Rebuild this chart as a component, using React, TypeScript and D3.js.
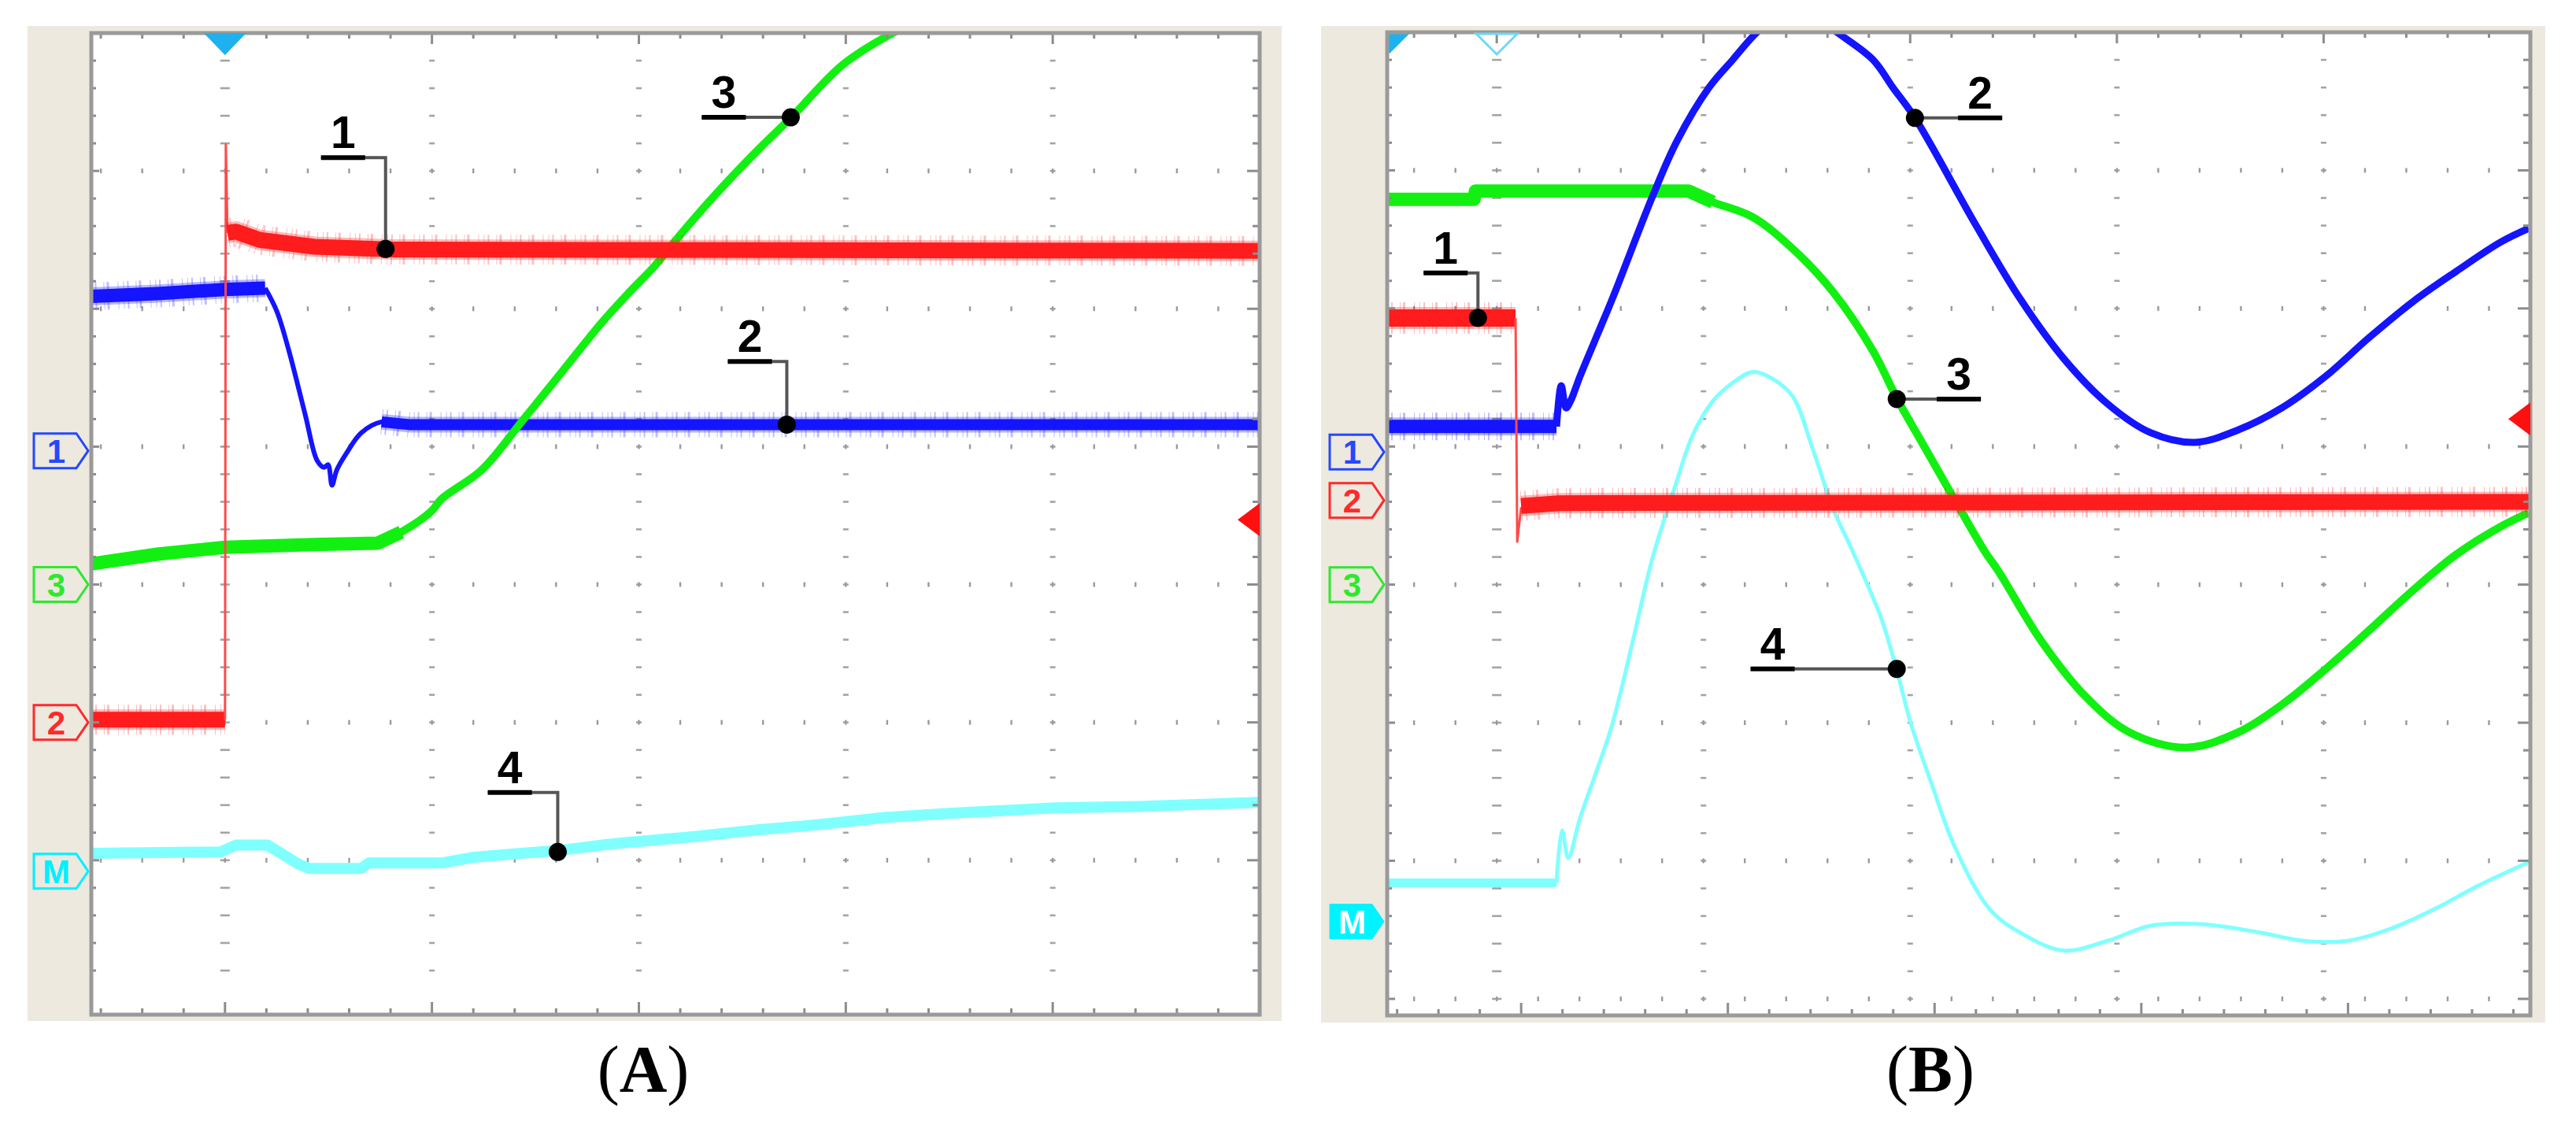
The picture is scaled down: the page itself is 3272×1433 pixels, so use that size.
import React from 'react';
import * as d3 from 'd3';

type Pt = [number, number];

// x = time in screen divisions from trigger, y = screen divisions from the lowest grid row

// ---------- Panel (A) ----------
const A_red_before: Pt[] = [[-0.646, 2.02], [0, 2.02]];
const A_red_edge: Pt[] = [[0, 2.02], [0.004, 6.19], [0.012, 5.55]];
const A_red_after: Pt[] = [[0.012, 5.55], [0.053, 5.56], [0.167, 5.5], [0.433, 5.45], [0.814, 5.43], [5.0, 5.42]];

const A_blue_before: Pt[] = [[-0.646, 5.09], [-0.327, 5.11], [0, 5.14], [0.194, 5.15]];
const A_blue_dip: Pt[] = [[0.194, 5.15], [0.251, 4.98], [0.308, 4.7], [0.388, 4.23], [0.445, 3.9], [0.479, 3.85], [0.498, 3.87], [0.517, 3.72], [0.54, 3.83], [0.586, 3.95], [0.658, 4.1], [0.757, 4.18], [0.89, 4.16]];
const A_blue_after: Pt[] = [[0.757, 4.18], [0.89, 4.16], [5.0, 4.16]];

const A_green_flat: Pt[] = [[-0.646, 3.15], [-0.327, 3.22], [0, 3.27], [0.433, 3.29], [0.738, 3.3], [0.852, 3.38]];
const A_green_rise: Pt[] = [[0.738, 3.3], [0.852, 3.38], [0.996, 3.53], [1.046, 3.62], [1.24, 3.83], [1.433, 4.18], [1.627, 4.54], [1.821, 4.9], [1.954, 5.12], [2.076, 5.31], [2.202, 5.54], [2.365, 5.82], [2.574, 6.15], [2.738, 6.39], [2.985, 6.77], [3.251, 7.02], [3.475, 7.18]];

const A_cyan: Pt[] = [[-0.646, 1.05], [-0.023, 1.06], [0.053, 1.11], [0.205, 1.11], [0.281, 1.04], [0.357, 0.97], [0.407, 0.94], [0.658, 0.94], [0.696, 0.98], [1.046, 0.98], [1.194, 1.02], [1.433, 1.05], [1.608, 1.07], [1.821, 1.11], [1.954, 1.13], [2.262, 1.17], [2.574, 1.22], [2.882, 1.26], [3.19, 1.31], [3.502, 1.34], [4.015, 1.38], [4.426, 1.39], [5.0, 1.42]];

const A_channelLevels = [
  { label: '1', level: 3.97 },
  { label: '3', level: 3.0 },
  { label: '2', level: 2.0 },
  { label: 'M', level: 0.92 },
];
const A_refLevel = 3.47;

const A_callouts = [
  { text: '1', dot: [0.776, 5.434] as Pt, corner: [0.776, 6.097] as Pt, end: [0.464, 6.097] as Pt },
  { text: '2', dot: [2.715, 4.16] as Pt, corner: [2.715, 4.617] as Pt, end: [2.43, 4.617] as Pt },
  { text: '3', dot: [2.734, 6.389] as Pt, corner: null, end: [2.304, 6.389] as Pt },
  { text: '4', dot: [1.608, 1.06] as Pt, corner: [1.608, 1.491] as Pt, end: [1.27, 1.491] as Pt },
];

// ---------- Panel (B) ----------
const B_red_before: Pt[] = [[-0.53, 4.93], [0.091, 4.93]];
const B_red_edge: Pt[] = [[0.091, 4.93], [0.099, 3.31], [0.118, 3.56]];
const B_red_after: Pt[] = [[0.118, 3.57], [0.3, 3.59], [5.0, 3.6]];

const B_blue_before: Pt[] = [[-0.53, 4.145], [0.289, 4.145]];
const B_blue_swing: Pt[] = [[0.289, 4.145], [0.312, 4.44], [0.335, 4.28], [0.357, 4.33], [0.403, 4.51], [0.559, 5.07], [0.753, 5.81], [0.871, 6.21], [1.027, 6.6], [1.141, 6.8], [1.259, 7.0], [1.357, 7.11], [1.452, 7.15], [1.548, 7.11], [1.646, 7.0], [1.821, 6.8], [1.916, 6.6], [2.023, 6.38], [2.319, 5.6], [2.532, 5.07], [2.741, 4.64], [2.954, 4.31], [3.163, 4.1], [3.376, 4.03], [3.586, 4.12], [3.798, 4.28], [4.011, 4.51], [4.221, 4.79], [4.433, 5.05], [4.643, 5.27], [4.856, 5.48], [4.992, 5.58]];

const B_green_flat: Pt[] = [[-0.53, 5.79], [-0.11, 5.79], [-0.103, 5.85], [0.928, 5.85], [1.046, 5.77]];
const B_green_fall: Pt[] = [[0.928, 5.85], [1.046, 5.77], [1.24, 5.66], [1.433, 5.43], [1.627, 5.12], [1.821, 4.69], [1.935, 4.35], [2.049, 4.05], [2.194, 3.67], [2.361, 3.24], [2.426, 3.1], [2.635, 2.59], [2.848, 2.19], [3.061, 1.93], [3.335, 1.82], [3.586, 1.93], [3.798, 2.13], [4.011, 2.39], [4.221, 2.67], [4.433, 2.96], [4.643, 3.22], [4.856, 3.42], [4.992, 3.52]];

const B_cyan_flat: Pt[] = [[-0.53, 0.84], [0.289, 0.84]];
const B_cyan_pulse: Pt[] = [[0.289, 0.84], [0.316, 1.22], [0.346, 1.02], [0.403, 1.31], [0.483, 1.65], [0.559, 1.99], [0.658, 2.59], [0.753, 3.19], [0.871, 3.75], [0.947, 4.08], [1.046, 4.33], [1.141, 4.46], [1.24, 4.54], [1.335, 4.49], [1.433, 4.36], [1.529, 3.98], [1.627, 3.55], [1.722, 3.24], [1.859, 2.76], [1.935, 2.38], [2.004, 1.99], [2.11, 1.53], [2.213, 1.11], [2.384, 0.65], [2.532, 0.48], [2.741, 0.35], [2.954, 0.42], [3.163, 0.53], [3.418, 0.54], [3.692, 0.48], [3.905, 0.42], [4.114, 0.42], [4.327, 0.51], [4.536, 0.65], [4.749, 0.82], [4.992, 0.99]];

const B_channelLevels = [
  { label: '1', level: 3.96 },
  { label: '2', level: 3.61 },
  { label: '3', level: 3.0 },
  { label: 'M', level: 0.56 },
];
const B_refLevel = 4.2;

const B_callouts = [
  { text: '1', dot: [-0.091, 4.932] as Pt, corner: [-0.091, 5.257] as Pt, end: [-0.354, 5.257] as Pt },
  { text: '2', dot: [2.023, 6.38] as Pt, corner: null, end: [2.445, 6.38] as Pt },
  { text: '3', dot: [1.935, 4.344] as Pt, corner: null, end: [2.342, 4.344] as Pt },
  { text: '4', dot: [1.935, 2.389] as Pt, corner: null, end: [1.228, 2.389] as Pt },
];

// ---------- styling ----------
const RED = '#ff1c1c';
const BLUE = '#1414ff';
const GREEN = '#12f012';
const CYAN = '#80ffff';
const BEIGE = '#ede9df';
const GRID = '#9a9a9a';

const markerColor: Record<string, string> = { '1': '#2448ff', '2': '#ff2a2a', '3': '#2ee82e', M: '#00f0ff' };

type Seg = { data: Pt[]; color: string; width: number; smooth?: boolean; fuzzy?: boolean };

const panels = [
  {
    key: 'A',
    frame: { x: 35, y: 33, w: 1593, h: 1264 },
    plot: { x0: 116, x1: 1600, y0: 42, y1: 1289 },
    xDomain: [-0.646, 5] as [number, number],
    yDomain: [-0.12, 7] as [number, number],
    rows: [1, 2, 3, 4, 5, 6],
    markMinY: 0.2,
    bottomShift: 0,
    captionX: 817,
    levels: A_channelLevels,
    refLevel: A_refLevel,
    callouts: A_callouts,
    filledM: false,
    segs: [
      { data: A_cyan, color: CYAN, width: 14 },
      { data: A_blue_before, color: BLUE, width: 17, fuzzy: true },
      { data: A_blue_dip, color: BLUE, width: 6, smooth: true },
      { data: A_blue_after, color: BLUE, width: 14, fuzzy: true },
      { data: A_green_flat, color: GREEN, width: 17 },
      { data: A_green_rise, color: GREEN, width: 10, smooth: true },
      { data: A_red_before, color: RED, width: 20, fuzzy: true },
      { data: A_red_edge, color: '#ff4a4a', width: 3 },
      { data: A_red_after, color: RED, width: 20, fuzzy: true },
    ] as Seg[],
  },
  {
    key: 'B',
    frame: { x: 1678, y: 33, w: 1555, h: 1266 },
    plot: { x0: 1762, x1: 3214, y0: 41, y1: 1290 },
    xDomain: [-0.53, 5] as [number, number],
    yDomain: [-0.12, 7] as [number, number],
    rows: [0, 1, 2, 3, 4, 5, 6],
    markMinY: 0,
    bottomShift: 0.118,
    captionX: 2452,
    levels: B_channelLevels,
    refLevel: B_refLevel,
    callouts: B_callouts,
    filledM: true,
    segs: [
      { data: B_cyan_flat, color: CYAN, width: 11 },
      { data: B_cyan_pulse, color: CYAN, width: 5, smooth: true },
      { data: B_green_flat, color: GREEN, width: 17 },
      { data: B_green_fall, color: GREEN, width: 10, smooth: true },
      { data: B_blue_before, color: BLUE, width: 17, fuzzy: true },
      { data: B_blue_swing, color: BLUE, width: 9, smooth: true },
      { data: B_red_before, color: RED, width: 22, fuzzy: true },
      { data: B_red_edge, color: '#ff4a4a', width: 3 },
      { data: B_red_after, color: RED, width: 20, fuzzy: true },
    ] as Seg[],
  },
];

function Panel({ p }: { p: (typeof panels)[number] }) {
  const { plot } = p;
  const xs = d3.scaleLinear().domain(p.xDomain).range([plot.x0, plot.x1]);
  const ys = d3.scaleLinear().domain(p.yDomain).range([plot.y1, plot.y0]);
  const clipId = `clip-${p.key}`;

  const minorX = d3.range(Math.ceil(p.xDomain[0] * 5), Math.floor(p.xDomain[1] * 5) + 1).map((k) => k / 5);
  const minorY = d3.range(Math.round(p.markMinY * 5), 35).map((k) => k / 5);
  const cols = [0, 1, 2, 3, 4];
  const isMajor = (v: number) => Math.abs(v - Math.round(v)) < 1e-6;

  const lineLin = d3.line<Pt>().x((d) => xs(d[0])).y((d) => ys(d[1]));
  const lineSm = d3.line<Pt>().x((d) => xs(d[0])).y((d) => ys(d[1])).curve(d3.curveCatmullRom.alpha(0.5));

  const marks: JSX.Element[] = [];
  p.rows.forEach((r) => {
    minorX.forEach((x, i) => {
      if (xs(x) <= plot.x0 + 3 || xs(x) >= plot.x1 - 3) return;
      marks.push(<rect key={`r${r}-${i}`} x={xs(x) - 1.2} y={ys(r) - 3} width={2.4} height={6} fill={GRID} />);
    });
  });
  cols.forEach((c) => {
    minorY.forEach((y, i) => {
      const w = c === 0 ? 12 : 7;
      marks.push(<rect key={`c${c}-${i}`} x={xs(c) - w / 2} y={ys(y) - 1.3} width={w} height={2.6} fill={GRID} opacity={0.9} />);
    });
  });
  const ticks: JSX.Element[] = [];
  minorX.forEach((x, i) => {
    const X = xs(x);
    if (X > plot.x0 + 4 && X < plot.x1 - 4) {
      const L = isMajor(x) ? 14 : 7;
      ticks.push(<line key={`t${i}`} x1={X} x2={X} y1={plot.y0} y2={plot.y0 + L} stroke="#8c8c8c" strokeWidth={3} />);
    }
  });
  d3.range(Math.ceil((p.xDomain[0] - p.bottomShift) * 5), Math.floor((p.xDomain[1] - p.bottomShift) * 5) + 1)
    .map((k) => k / 5)
    .forEach((x, i) => {
      const X = xs(x + p.bottomShift);
      if (X > plot.x0 + 4 && X < plot.x1 - 4) {
        const L = isMajor(x) ? 16 : 8;
        ticks.push(<line key={`b${i}`} x1={X} x2={X} y1={plot.y1} y2={plot.y1 - L} stroke="#8c8c8c" strokeWidth={3} />);
      }
    });
  minorY.forEach((y, i) => {
    const Y = ys(y);
    const major = isMajor(y);
    ticks.push(<line key={`l${i}`} x1={plot.x0} x2={plot.x0 + (major ? 10 : 6)} y1={Y} y2={Y} stroke="#8c8c8c" strokeWidth={3} />);
    ticks.push(<line key={`rr${i}`} x1={plot.x1} x2={plot.x1 - (major ? 16 : 9)} y1={Y} y2={Y} stroke="#8c8c8c" strokeWidth={3} />);
  });

  const tx = xs(0);
  const mLeft = plot.x0 - 73;
  const mTip = plot.x0 - 4;

  return (
    <g>
      <rect x={p.frame.x} y={p.frame.y} width={p.frame.w} height={p.frame.h} fill={BEIGE} />
      <rect x={plot.x0} y={plot.y0} width={plot.x1 - plot.x0} height={plot.y1 - plot.y0} fill="#ffffff" />
      <clipPath id={clipId}>
        <rect x={plot.x0} y={plot.y0} width={plot.x1 - plot.x0} height={plot.y1 - plot.y0} />
      </clipPath>
      <g>{marks}</g>
      <g clipPath={`url(#${clipId})`}>
        {p.segs.map((s, i) => {
          const d = (s.smooth ? lineSm : lineLin)(s.data) || '';
          return (
            <g key={i}>
              {s.fuzzy && (
                <path d={d} fill="none" stroke={s.color} strokeWidth={s.width + 18} strokeOpacity={0.28} strokeDasharray="1 4 2 9 1 3 3 11 1 6" />
              )}
              {s.fuzzy && <path d={d} fill="none" stroke={s.color} strokeWidth={s.width + 6} strokeOpacity={0.3} />}
              <path d={d} fill="none" stroke={s.color} strokeWidth={s.width} strokeLinejoin="round" strokeLinecap="butt" />
            </g>
          );
        })}
        {p.key === 'B' && (
          <path d={`M${plot.x0 - 24},${plot.y0} L${plot.x0 + 30},${plot.y0} L${plot.x0 + 3},${plot.y0 + 27} Z`} fill="#1fb1ee" />
        )}
      </g>
      <g>{ticks}</g>
      <rect x={plot.x0} y={plot.y0} width={plot.x1 - plot.x0} height={plot.y1 - plot.y0} fill="none" stroke="#9a9a9a" strokeWidth={5} />

      {p.key === 'A' ? (
        <path d={`M${tx - 27},${plot.y0} L${tx + 27},${plot.y0} L${tx},${plot.y0 + 28} Z`} fill="#1fb1ee" />
      ) : (
        <path d={`M${tx - 26},${plot.y0 + 2} L${tx + 26},${plot.y0 + 2} L${tx},${plot.y0 + 28} Z`} fill="none" stroke="#6fd8f8" strokeWidth={3} />
      )}
      <path d={`M${plot.x1 - 28},${ys(p.refLevel)} L${plot.x1},${ys(p.refLevel) - 21} L${plot.x1},${ys(p.refLevel) + 21} Z`} fill="#ff1010" />

      {p.levels.map((m) => {
        const Y = ys(m.level);
        const col = markerColor[m.label];
        const filled = m.label === 'M' && p.filledM;
        const dPath = `M${mLeft},${Y - 22} L${mTip - 15},${Y - 22} L${mTip},${Y} L${mTip - 15},${Y + 22} L${mLeft},${Y + 22} Z`;
        return (
          <g key={m.label}>
            <path d={dPath} fill={filled ? '#00f4ff' : BEIGE} stroke={col} strokeWidth={filled ? 1 : 3} />
            <text
              x={(mLeft + mTip - 12) / 2}
              y={Y + 15}
              textAnchor="middle"
              fontFamily="'Liberation Sans', Arial, sans-serif"
              fontWeight="bold"
              fontSize={42}
              fill={filled ? '#ffffff' : col}
            >
              {m.label}
            </text>
          </g>
        );
      })}

      {p.callouts.map((c) => {
        const dx = xs(c.dot[0]);
        const dy = ys(c.dot[1]);
        const ex = xs(c.end[0]);
        const ey = ys(c.end[1]);
        const cx = c.corner ? xs(c.corner[0]) : dx;
        const cy = c.corner ? ys(c.corner[1]) : ey;
        const dir = ex < cx ? 1 : -1;
        const thickEnd = ex + dir * 56;
        return (
          <g key={c.text}>
            <path d={`M${ex},${ey} L${cx},${cy} L${dx},${dy}`} fill="none" stroke="#555555" strokeWidth={4} />
            <line x1={ex} x2={thickEnd} y1={ey} y2={ey} stroke="#000000" strokeWidth={6} />
            <circle cx={dx} cy={dy} r={11.5} fill="#000000" />
            <text
              x={(ex + thickEnd) / 2}
              y={ey - 12}
              textAnchor="middle"
              fontFamily="'Liberation Sans', Arial, sans-serif"
              fontWeight="bold"
              fontSize={57}
              fill="#000000"
            >
              {c.text}
            </text>
          </g>
        );
      })}

      <text x={p.captionX} y={1387} textAnchor="middle" fontFamily="'Liberation Serif', 'Times New Roman', serif" fontSize={84} fill="#000">
        (<tspan fontWeight="bold">{p.key}</tspan>)
      </text>
    </g>
  );
}

export default function App() {
  return (
    <svg
      width={3272}
      height={1433}
      viewBox="0 0 3272 1433"
      style={{ position: 'absolute', left: 0, top: 0, background: '#ffffff' }}
    >
      <rect x={0} y={0} width={3272} height={1433} fill="#ffffff" />
      {panels.map((p) => (
        <Panel key={p.key} p={p} />
      ))}
    </svg>
  );
}
